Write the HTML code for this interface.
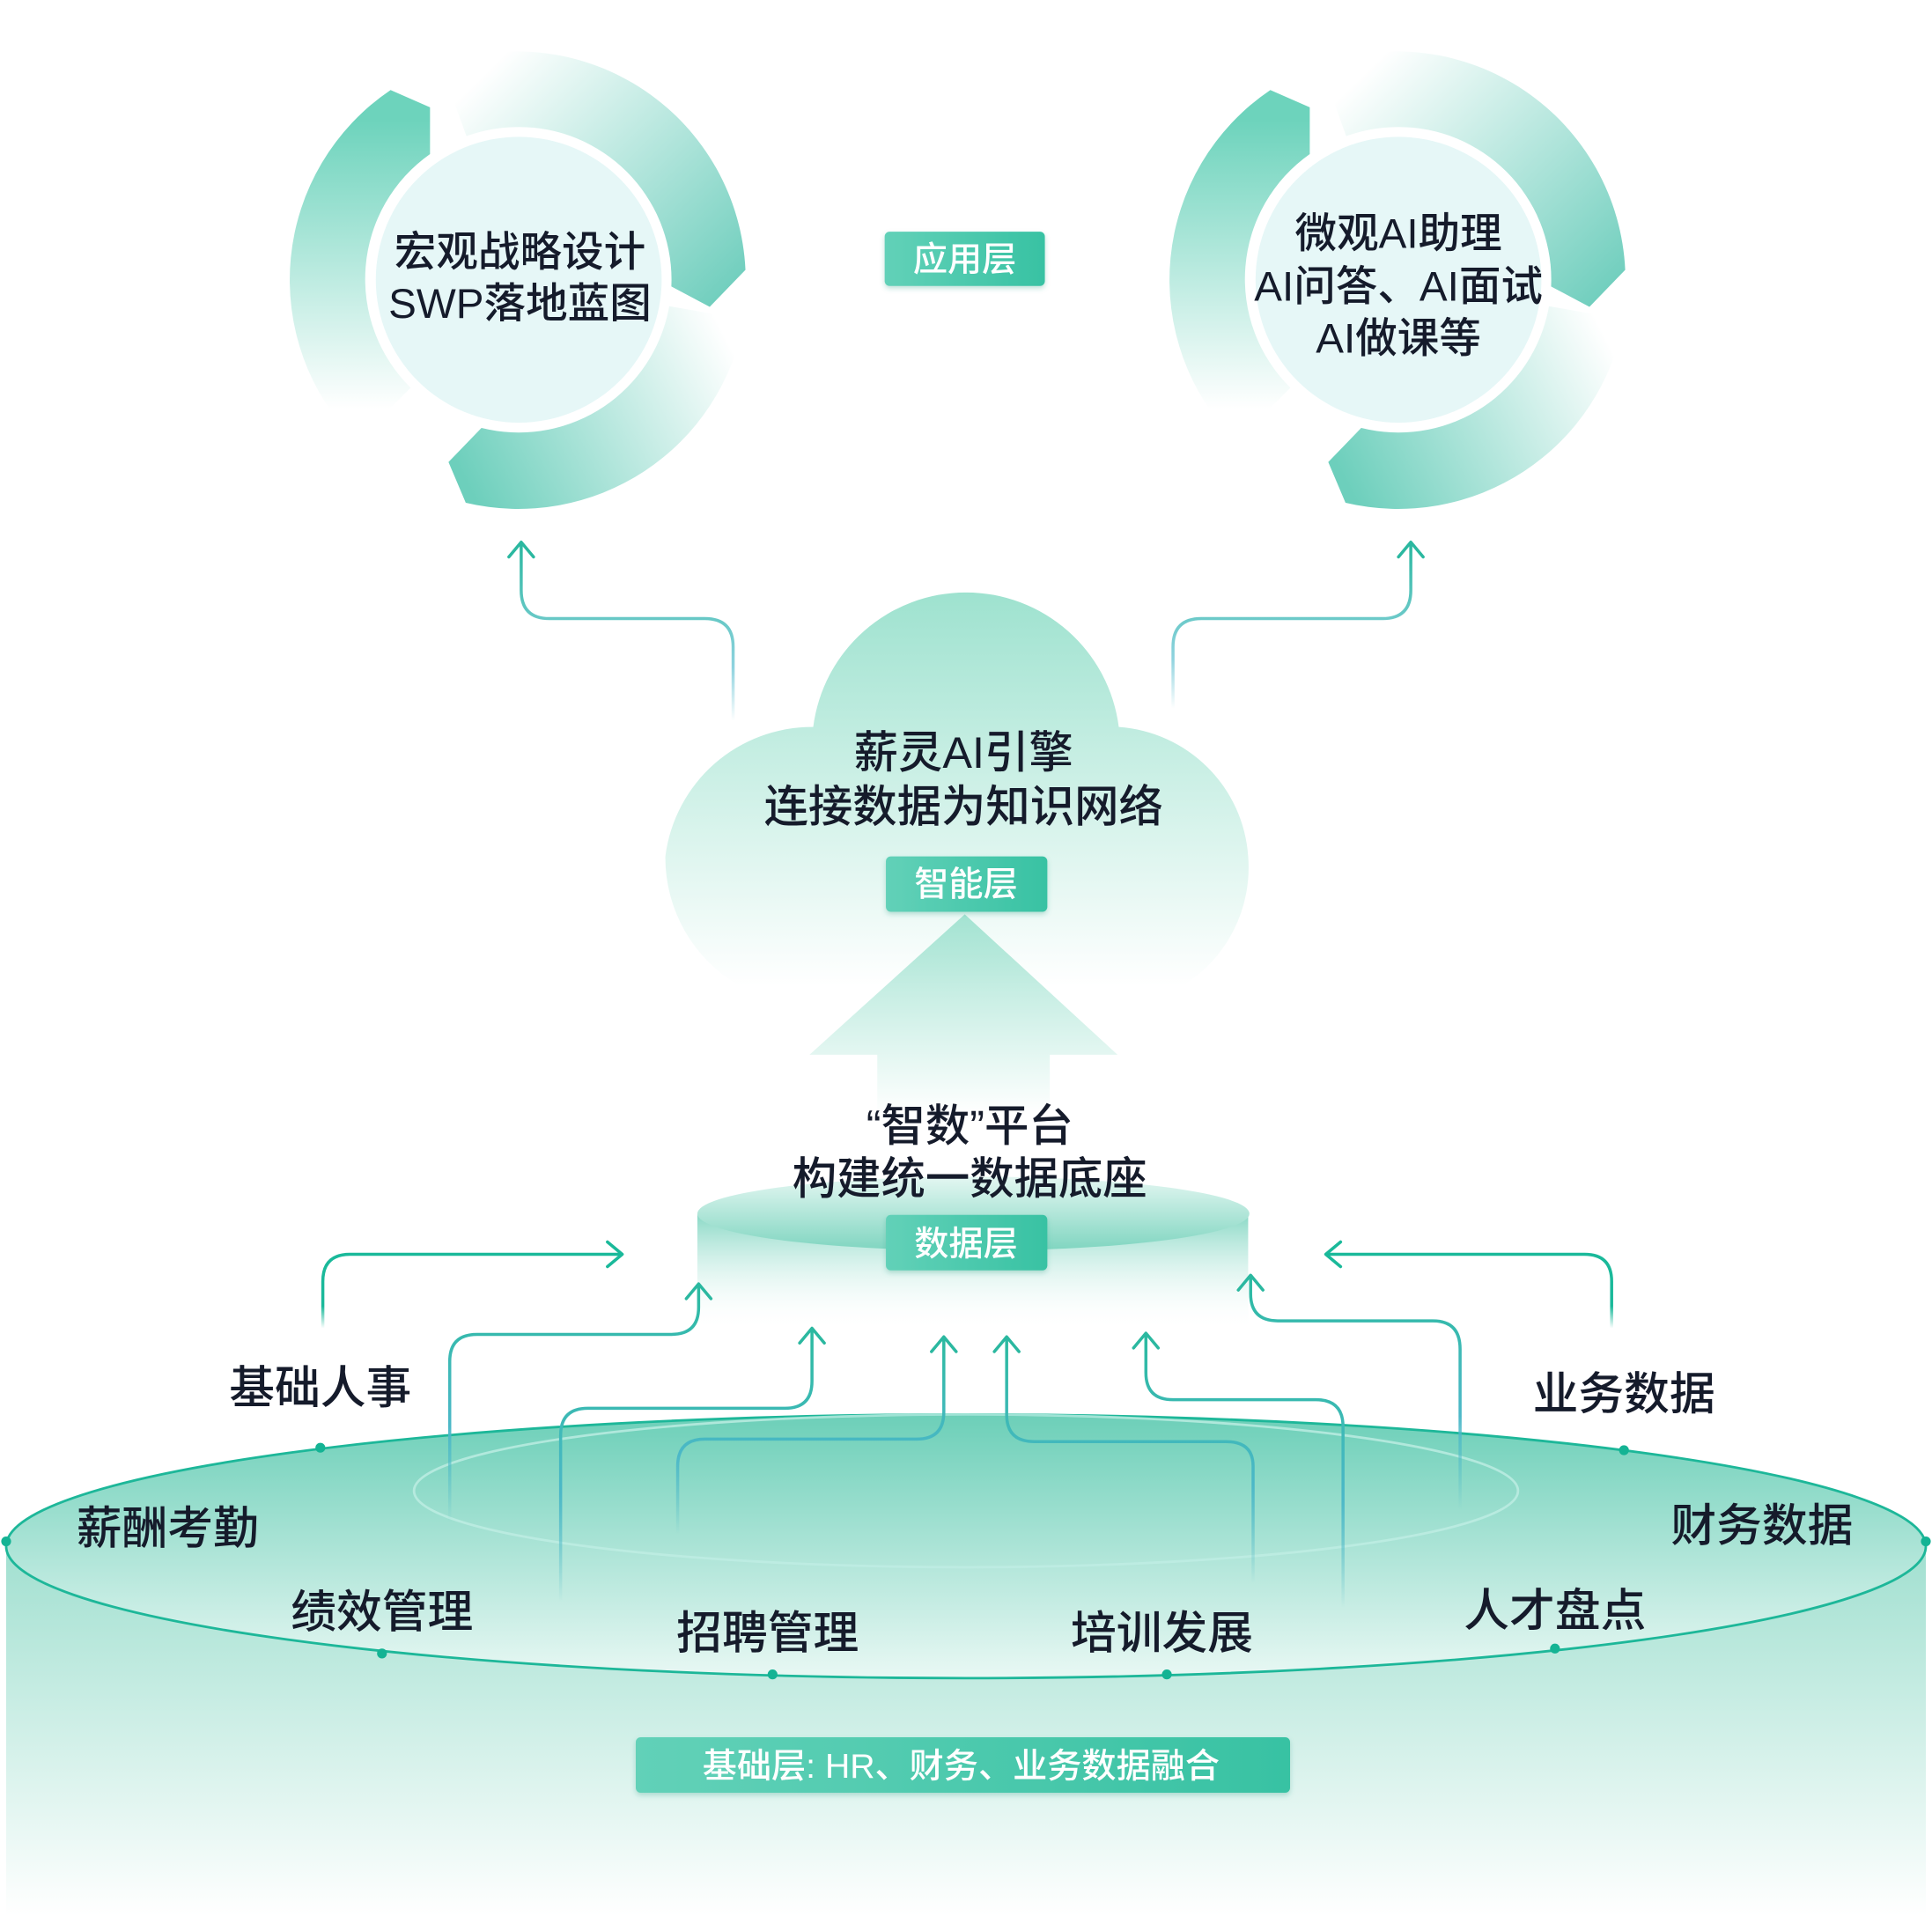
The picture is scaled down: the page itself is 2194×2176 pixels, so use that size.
<!DOCTYPE html>
<html><head><meta charset="utf-8"><style>
html,body{margin:0;padding:0;background:#fff;}
svg{display:block;}
text{font-family:"Liberation Sans","Noto Sans CJK SC",sans-serif;font-weight:500;}
</style></head><body>
<svg width="2194" height="2176" viewBox="0 0 1568 1555" xmlns="http://www.w3.org/2000/svg">
<defs>
<linearGradient id="gA" gradientUnits="userSpaceOnUse" x1="0" y1="105" x2="0" y2="-130"><stop offset="0" stop-color="#6dd3bc" stop-opacity="0"/><stop offset="1" stop-color="#6dd3bc"/></linearGradient>
<linearGradient id="gB" gradientUnits="userSpaceOnUse" x1="-20" y1="-175" x2="170" y2="20"><stop offset="0" stop-color="#6dcfbc" stop-opacity="0"/><stop offset="1" stop-color="#6dcdbc"/></linearGradient>
<linearGradient id="gC" gradientUnits="userSpaceOnUse" x1="175" y1="60" x2="-40" y2="170"><stop offset="0" stop-color="#6dcfbc" stop-opacity="0"/><stop offset="1" stop-color="#6dcfbc"/></linearGradient>
<linearGradient id="gCloud" x1="0" y1="0" x2="0" y2="1"><stop offset="0" stop-color="#9ee2cf"/><stop offset="1" stop-color="#9ee2cf" stop-opacity="0"/></linearGradient>
<linearGradient id="gArrow" x1="0" y1="0" x2="0" y2="1"><stop offset="0" stop-color="#a4e3d2"/><stop offset="1" stop-color="#a4e3d2" stop-opacity="0"/></linearGradient>
<linearGradient id="gTag" x1="0" y1="0" x2="1" y2="0"><stop offset="0" stop-color="#62d1b8"/><stop offset="1" stop-color="#38c2a3"/></linearGradient>
<linearGradient id="gDtop" x1="0" y1="0" x2="0" y2="1"><stop offset="0" stop-color="#e4f7f2"/><stop offset="1" stop-color="#7fd5c0"/></linearGradient>
<linearGradient id="gDbody" x1="0" y1="0" x2="0" y2="1"><stop offset="0" stop-color="#88d8c5"/><stop offset="1" stop-color="#ffffff" stop-opacity="0"/></linearGradient>
<linearGradient id="gEll" x1="0" y1="0" x2="0" y2="1"><stop offset="0" stop-color="#6ccfb8"/><stop offset="1" stop-color="#e9f8f4"/></linearGradient>
<linearGradient id="gBody" x1="0" y1="0" x2="0" y2="1"><stop offset="0" stop-color="#9fdfcf"/><stop offset="1" stop-color="#ffffff"/></linearGradient>
<linearGradient id="fadeUp" x1="0" y1="1" x2="0" y2="0"><stop offset="0" stop-color="#1ab99a" stop-opacity="0"/><stop offset="0.3" stop-color="#1ab99a"/><stop offset="1" stop-color="#1ab99a"/></linearGradient>
<linearGradient id="fadeBlue" x1="0" y1="1" x2="0" y2="0"><stop offset="0" stop-color="#4cb8c8" stop-opacity="0"/><stop offset="0.4" stop-color="#4cb8c8"/><stop offset="1" stop-color="#2bbaa0"/></linearGradient>
<linearGradient id="fadeTop" x1="0" y1="1" x2="0" y2="0"><stop offset="0" stop-color="#8fd3df" stop-opacity="0"/><stop offset="0.3" stop-color="#8fd3df"/><stop offset="1" stop-color="#2bb8a0"/></linearGradient>
<filter id="sh" x="-20%" y="-40%" width="140%" height="180%"><feDropShadow dx="0" dy="2" stdDeviation="2" flood-color="#2a9a82" flood-opacity="0.3"/></filter>
<g id="ring">
<path d="M -131.5 131.5 A186 186 0 0 1 -104 -154 L -72 -140 L -72 -102 A124 124 0 0 0 -87.7 87.7 Z" fill="url(#gA)"/>
<path d="M -63.6 -174.8 A186 186 0 0 1 184 -8 L 155 22 L 123 5 A124 124 0 0 0 -42.4 -116.5 Z" fill="url(#gB)"/>
<path d="M 183 32 A186 186 0 0 1 -43 181 L -57 148 L -30 120 A124 124 0 0 0 122 21.5 Z" fill="url(#gC)"/>
<circle r="124" fill="#fff"/>
<circle r="116" fill="#e6f7f7"/>
</g>
</defs>

<use href="#ring" x="421" y="227"/>
<use href="#ring" x="1135" y="227"/>
<g font-size="34" fill="#151b2b" text-anchor="middle">
<text x="422" y="216">宏观战略设计</text>
<text x="422" y="258">SWP落地蓝图</text>
<text x="1135" y="201">微观AI助理</text>
<text x="1135" y="244">AI问答、AI面试</text>
<text x="1135" y="286">AI做课等</text>
</g>

<g fill="none" stroke-width="2.5" stroke-linecap="round" stroke-linejoin="round">
<path d="M595 585 V525 Q595 502 572 502 H446 Q423 502 423 479 V441" stroke="url(#fadeTop)"/>
<path d="M413 452 L423 440 L433 452" stroke="#2bb8a0"/>
<path d="M952 575 V525 Q952 502 975 502 H1122 Q1145 502 1145 479 V441" stroke="url(#fadeTop)"/>
<path d="M1135 452 L1145 440 L1155 452" stroke="#2bb8a0"/>
</g>

<path d="M660 590 A125 125 0 0 1 908 590 A113 113 0 0 1 1013 695 A113 113 0 0 1 960 800 L600 800 A120 120 0 0 1 540 695 A120 120 0 0 1 660 590 Z" fill="url(#gCloud)"/>
<g font-size="36" fill="#151b2b" text-anchor="middle">
<text x="782" y="623">薪灵AI引擎</text>
<text x="782" y="667">连接数据为知识网络</text>
</g>

<path d="M783 742 L907 856 L852 856 L852 905 L712 905 L712 856 L657 856 Z" fill="url(#gArrow)"/>

<g filter="url(#sh)">
<rect x="718" y="188" width="130" height="44" rx="4" fill="url(#gTag)"/>
<rect x="719" y="695" width="131" height="45" rx="4" fill="url(#gTag)"/>
</g>
<g font-size="28" fill="#fff" text-anchor="middle">
<text x="783" y="220">应用层</text>
<text x="784" y="727">智能层</text>
</g>

<path d="M5 1250 L5 1555 L1563 1555 L1563 1250 Z" fill="url(#gBody)"/>
<ellipse cx="784" cy="1255" rx="779" ry="107" fill="url(#gEll)" stroke="#1db799" stroke-width="2"/>
<ellipse cx="784" cy="1210" rx="448" ry="62" fill="none" stroke="#bfeee3" stroke-width="2" opacity="0.8"/>
<g fill="#14b394">
<circle cx="260" cy="1175" r="4"/><circle cx="5" cy="1251" r="4"/><circle cx="310" cy="1342" r="4"/>
<circle cx="627" cy="1359" r="4"/><circle cx="947" cy="1359" r="4"/><circle cx="1262" cy="1338" r="4"/>
<circle cx="1563" cy="1251" r="4"/><circle cx="1318" cy="1177" r="4"/>
</g>

<rect x="566" y="985" width="447" height="95" fill="url(#gDbody)"/>
<ellipse cx="790" cy="985" rx="224" ry="30" fill="url(#gDtop)"/>
<g font-size="36" fill="#151b2b" text-anchor="middle">
<text x="787" y="926">“智数”平台</text>
<text x="787" y="969">构建统一数据底座</text>
</g>
<rect x="719" y="986" width="131" height="45" rx="4" fill="url(#gTag)" filter="url(#sh)"/>
<text x="784" y="1019" font-size="28" fill="#fff" text-anchor="middle">数据层</text>

<g fill="none" stroke-width="2.5" stroke-linecap="round" stroke-linejoin="round">
<path d="M262 1078 V1040 Q262 1018 284 1018 H504" stroke="url(#fadeUp)"/>
<path d="M493 1008 L505 1018 L493 1028" stroke="#1ab99a"/>
<path d="M1308 1078 V1040 Q1308 1018 1286 1018 H1077" stroke="url(#fadeUp)"/>
<path d="M1088 1008 L1076 1018 L1088 1028" stroke="#1ab99a"/>
<path d="M365 1235 V1105 Q365 1083 387 1083 H545 Q567 1083 567 1061 V1043" stroke="url(#fadeBlue)"/>
<path d="M557 1054 L567 1042 L577 1054" stroke="#2bb8a0"/>
<path d="M455 1300 V1165 Q455 1143 477 1143 H637 Q659 1143 659 1121 V1079" stroke="url(#fadeBlue)"/>
<path d="M649 1090 L659 1078 L669 1090" stroke="#2bb8a0"/>
<path d="M550 1245 V1190 Q550 1168 572 1168 H744 Q766 1168 766 1146 V1086" stroke="url(#fadeBlue)"/>
<path d="M756 1097 L766 1085 L776 1097" stroke="#2bb8a0"/>
<path d="M1017 1285 V1190 Q1017 1170 995 1170 H839 Q817 1170 817 1148 V1086" stroke="url(#fadeBlue)"/>
<path d="M807 1097 L817 1085 L827 1097" stroke="#2bb8a0"/>
<path d="M1090 1305 V1158 Q1090 1136 1068 1136 H952 Q930 1136 930 1114 V1083" stroke="url(#fadeBlue)"/>
<path d="M920 1094 L930 1082 L940 1094" stroke="#2bb8a0"/>
<path d="M1185 1225 V1095 Q1185 1072 1163 1072 H1037 Q1015 1072 1015 1050 V1036" stroke="url(#fadeBlue)"/>
<path d="M1005 1047 L1015 1035 L1025 1047" stroke="#2bb8a0"/>
</g>

<g font-size="37" fill="#151b2b" text-anchor="middle">
<text x="260" y="1139">基础人事</text>
<text x="1318" y="1144">业务数据</text>
<text x="136" y="1253">薪酬考勤</text>
<text x="1430" y="1251">财务数据</text>
<text x="310" y="1321">绩效管理</text>
<text x="623" y="1338">招聘管理</text>
<text x="943" y="1338">培训发展</text>
<text x="1262" y="1320">人才盘点</text>
</g>

<rect x="516" y="1410" width="531" height="45" rx="4" fill="url(#gTag)" filter="url(#sh)"/>
<text x="780" y="1443" font-size="28" fill="#fff" text-anchor="middle">基础层: HR、财务、业务数据融合</text>
</svg>
</body></html>
